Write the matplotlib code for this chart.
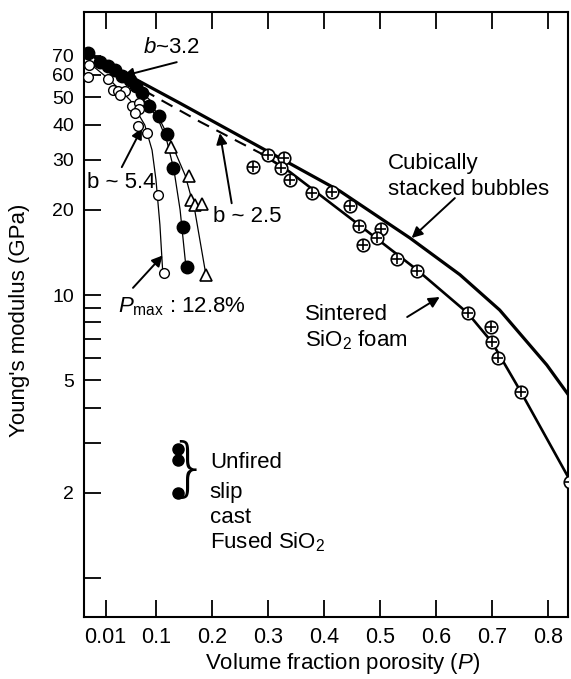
import matplotlib.pyplot as plt

plt.rcParams['font.family'] = ['Liberation Sans', 'DejaVu Sans']
plt.rcParams['mathtext.fontset'] = 'custom'
plt.rcParams['mathtext.rm'] = 'Liberation Sans'
plt.rcParams['mathtext.it'] = 'Liberation Sans:italic'

# values (porosity P, modulus E in GPa)
open_p = [-0.020, -0.021, 0.014, 0.023, 0.032, 0.045, 0.036, 0.057, 0.070, 0.070, 0.062, 0.068, 0.084, 0.103, 0.114]
open_e = [65.0, 58.9, 58.0, 53.0, 52.6, 52.6, 50.9, 46.6, 47.7, 45.4, 44.0, 39.5, 37.3, 22.5, 12.0]

filled_p = [-0.021, 0.0, 0.014, 0.027, 0.039, 0.054, 0.064, 0.075, 0.087, 0.105, 0.119, 0.130, 0.148, 0.155]
filled_e = [71.6, 66.5, 64.4, 62.4, 59.4, 57.5, 54.8, 51.8, 46.6, 42.9, 37.1, 28.1, 17.4, 12.6]

tri_p = [0.127, 0.159, 0.162, 0.169, 0.182, 0.189]
tri_e = [33.3, 26.3, 21.7, 20.8, 21.0, 11.8]

foam_p = [0.273, 0.300, 0.328, 0.323, 0.339, 0.378, 0.414, 0.446, 0.462, 0.501, 0.494, 0.469,
          0.530, 0.565, 0.656, 0.697, 0.699, 0.710, 0.751, 0.838]
foam_e = [28.3, 31.3, 30.5, 28.1, 25.5, 22.9, 23.1, 20.6, 17.5, 17.1, 15.9, 15.0,
          13.4, 12.2, 8.63, 7.71, 6.82, 5.99, 4.54, 2.18]

# fitted curves
open_fit_p = [-0.021, 0.018, 0.054, 0.080, 0.093, 0.100, 0.107, 0.112]
open_fit_e = [66.5, 57.5, 48.8, 39.9, 32.5, 25.5, 17.7, 12.1]
filled_fit_p = [-0.021, 0.027, 0.071, 0.103, 0.119, 0.132, 0.143, 0.153]
filled_fit_e = [71.6, 61.4, 50.9, 42.2, 35.3, 27.7, 20.0, 12.8]
tri_fit_p = [-0.021, 0.036, 0.089, 0.125, 0.152, 0.169, 0.189]
tri_fit_e = [71.6, 61.4, 48.9, 35.3, 26.5, 20.0, 11.8]

cubic_p = [-0.023, 0.143, 0.334, 0.428, 0.553, 0.642, 0.713, 0.797, 0.838]
cubic_e = [71.6, 47.6, 29.5, 23.3, 15.9, 11.8, 8.85, 5.66, 4.37]

foam_fit_p = [0.289, 0.339, 0.451, 0.565, 0.656, 0.699, 0.751, 0.838]
foam_fit_e = [31.5, 27.2, 18.4, 12.3, 8.63, 6.82, 4.54, 2.22]

dash_p = [0.045, 0.178, 0.289]
dash_e = [57.5, 41.0, 31.5]

unfired_p = [0.139, 0.139, 0.139]
unfired_e = [2.86, 2.61, 2.0]

xticks = [0.01, 0.1, 0.2, 0.3, 0.4, 0.5, 0.6, 0.7, 0.8]
yticks = [1, 2, 3, 4, 5, 6, 7, 8, 9, 10, 20, 30, 40, 50, 60, 70]
ylabels_shown = [2, 5, 10, 20, 30, 40, 50, 60, 70]

fig = plt.figure(figsize=(5.71, 6.79), dpi=100)
ax = fig.add_axes([0.147, 0.0913, 0.8476, 0.891])
ax.set_yscale('log')
ax.set_xlim(-0.0285, 0.8347)
ax.set_ylim(0.728, 100)

# curves
ax.plot(open_fit_p, open_fit_e, color='k', lw=0.9)
ax.plot(filled_fit_p, filled_fit_e, color='k', lw=0.9)
ax.plot(tri_fit_p, tri_fit_e, color='k', lw=0.9)
ax.plot(cubic_p, cubic_e, color='k', lw=2.3)
ax.plot(foam_fit_p, foam_fit_e, color='k', lw=1.9)
ax.plot(dash_p, dash_e, color='k', lw=1.5, dashes=(6, 4))

# points
ax.plot(filled_p, filled_e, 'o', color='k', ms=9, zorder=4)
ax.plot(open_p, open_e, 'o', mfc='white', mec='k', ms=7, mew=1.0, zorder=5)
ax.plot(tri_p, tri_e, '^', mfc='white', mec='k', ms=8, mew=1.2, zorder=5)
ax.plot(foam_p, foam_e, 'o', mfc='white', mec='k', ms=9, mew=1.2, zorder=5)
ax.plot(foam_p, foam_e, '+', color='k', ms=7, mew=1.2, zorder=6)
ax.plot(unfired_p, unfired_e, 'o', color='k', ms=8, zorder=5)

# axes styling
ax.set_xticks(xticks)
ax.set_xticklabels([f'{t:g}' for t in xticks])
ax.set_yticks(yticks)
ax.set_yticklabels([str(t) if t in ylabels_shown else '' for t in yticks])
ax.minorticks_off()
ax.tick_params(axis='both', direction='in', length=12, width=1.3, pad=7)
ax.tick_params(axis='x', top=True, labelsize=15.5)
ax.tick_params(axis='y', labelsize=14)
for s in ax.spines.values():
    s.set_linewidth(1.5)

fig.text(20 / 571, 1 - 320 / 679, "Young's modulus (GPa)", rotation=90,
         ha='center', va='center', fontsize=16)
fig.text(343 / 571, 1 - 663 / 679, 'Volume fraction porosity ($P$)',
         ha='center', va='center', fontsize=16)

arrow = dict(arrowstyle='-|>', color='k', lw=1.4, mutation_scale=16, shrinkA=0, shrinkB=0)
fs = 16

ax.annotate('', xy=(0.041, 59.4), xytext=(0.137, 66.5), arrowprops=arrow)
ax.text(0.128, 75.2, '$b$~3.2', ha='center', va='center', fontsize=fs)

ax.annotate('', xy=(0.075, 38.9), xytext=(0.039, 28.3), arrowprops=arrow)
ax.text(-0.023, 24.9, 'b ~ 5.4', ha='left', va='center', fontsize=fs)

ax.annotate('', xy=(0.214, 37.3), xytext=(0.235, 21.1), arrowprops=arrow)
ax.text(0.262, 18.9, 'b ~ 2.5', ha='center', va='center', fontsize=fs)

ax.annotate('', xy=(0.112, 13.8), xytext=(0.059, 10.6), arrowprops=arrow)
ax.text(0.032, 9.08, '$P_{\\mathrm{max}}$ : 12.8%', ha='left', va='center', fontsize=fs)

ax.annotate('', xy=(0.556, 15.9), xytext=(0.633, 22.0), arrowprops=arrow)
ax.text(0.514, 29.2, 'Cubically', ha='left', va='center', fontsize=fs)
ax.text(0.514, 23.5, 'stacked bubbles', ha='left', va='center', fontsize=fs)

ax.annotate('', xy=(0.606, 9.84), xytext=(0.548, 8.36), arrowprops=arrow)
ax.text(0.366, 8.5, 'Sintered', ha='left', va='center', fontsize=fs)
ax.text(0.366, 6.93, 'SiO$_2$ foam', ha='left', va='center', fontsize=fs)

ax.text(0.158, 2.38, '}', ha='center', va='center', fontsize=46,
        family='DejaVu Sans', fontweight='light')
for yy, line in zip([2.55, 2.01, 1.64, 1.34], ['Unfired', 'slip', 'cast', 'Fused SiO$_2$']):
    ax.text(0.196, yy, line, ha='left', va='center', fontsize=fs)

fig.savefig('out.png', dpi=100)
